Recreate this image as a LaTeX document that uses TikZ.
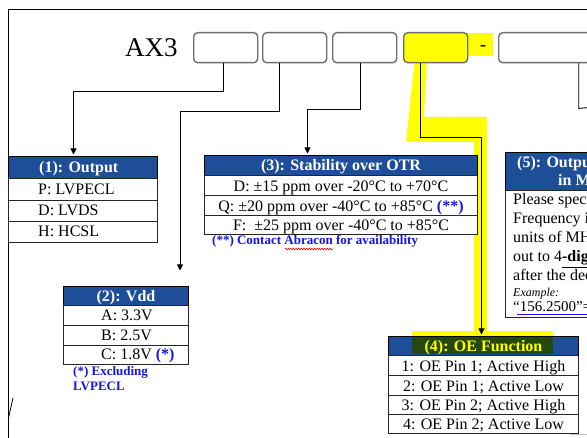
\documentclass[tikz,border=0pt]{standalone}
\usepackage{fontspec}
\setmainfont{Liberation Serif}
\usetikzlibrary{arrows.meta,decorations.pathmorphing}
\definecolor{hblue}{RGB}{31,78,153}
\definecolor{hlgreen}{RGB}{36,72,14}
\definecolor{boxgray}{RGB}{110,110,110}
\definecolor{hlyellow}{RGB}{255,255,0}
\definecolor{fnblue}{RGB}{20,20,235}
\newcommand\tabfont{\fontsize{16}{19}\selectfont}
\newcommand\tabbold{\fontsize{16}{19}\selectfont\bfseries}
\newcommand\notefont{\fontsize{13}{15}\selectfont\bfseries}
\begin{document}
\begin{tikzpicture}[x=1pt,y=-1pt,
  pbox/.style={draw=boxgray,line width=1.4pt,rounded corners=4pt,fill=white,minimum width=64pt,minimum height=30pt,inner sep=0pt,anchor=north west},
  conn/.style={line width=0.9pt,-{Triangle[width=6pt,length=6pt]},shorten >=1.5pt},
  wire/.style={line width=0.9pt},
  hdr/.style={draw=black,line width=1pt,fill=hblue,text=white,font=\tabbold,inner sep=0pt,anchor=north west,text height=10.6pt,text depth=0pt},
  cell/.style={draw=black!85,line width=1pt,fill=white,inner sep=0pt,anchor=north west,font=\tabfont,text height=10.6pt,text depth=0pt},
  txt/.style={inner sep=0pt,anchor=base west,font=\tabfont},
  htxt/.style={inner sep=0pt,anchor=base west,font=\tabbold,text=white},
  fn/.style={inner sep=0pt,anchor=base west,text=fnblue,font=\notefont}]
\useasboundingbox (0,0) rectangle (587,438);
\clip (0,0) rectangle (587,438);
\fill[white] (0,0) rectangle (587,438);

% yellow highlighter
\fill[hlyellow] (415,58) -- (427,58) -- (424,117) -- (487,117) -- (487,337) -- (474,337) -- (474,142) -- (406,142) -- cycle;
\fill[hlyellow] (465,33) rectangle (493,56);

% frame
\draw[line width=1pt] (8,440) -- (8,10) -- (592,10);

% part number
\node[inner sep=0pt,anchor=base west,font=\fontsize{27}{30}\selectfont] (ax) at (125,57) {AX3};
\node[pbox] (b1) at (193,32) {};
\node[pbox] (b2) at (262,32) {};
\node[pbox] (b3) at (332,32) {};
\node[pbox,fill=hlyellow] (b4) at (403,32) {};
\node[inner sep=0pt,font=\fontsize{18}{20}\selectfont\bfseries] (dash) at (483,48.5) {-};
\node[pbox,minimum width=130pt] (b5) at (498,32) {};

% connectors
\coordinate (v2end) at (180,272);
\coordinate (b5end) at (595,107);

% table 1
\node[hdr,minimum width=149pt,minimum height=22pt] (t1h) at (8,156) {};
\node[htxt] (t1ht) at (39,172.3) {(1): Output};
\node[cell,minimum width=149pt,minimum height=22pt] (t1a) at (8,178) {};
\node[cell,minimum width=149pt,minimum height=21pt] (t1b) at (8,200) {};
\node[cell,minimum width=149pt,minimum height=21pt] (t1c) at (8,221) {};
\node[txt] (t1at) at (38,194.3) {P: LVPECL};
\node[txt] (t1bt) at (38,215.8) {D: LVDS};
\node[txt] (t1ct) at (38,236.8) {H: HCSL};

% table 2
\node[hdr,minimum width=125pt,minimum height=19pt] (t2h) at (63,286) {(2): Vdd};
\node[cell,minimum width=125pt,minimum height=20pt] (t2a) at (63,305) {};
\node[cell,minimum width=125pt,minimum height=20pt] (t2b) at (63,325) {};
\node[cell,minimum width=125pt,minimum height=19pt] (t2c) at (63,345) {};
\node[txt] (t2at) at (101,320.3) {A: 3.3V};
\node[txt] (t2bt) at (101,340.3) {B: 2.5V};
\node[txt] (t2ct) at (101,359.8) {C: 1.8V \textcolor{fnblue}{\textbf{(*)}}};
\node[fn] (fn2a) at (73,376) {(*) Excluding};
\node[fn] (fn2b) at (73,391) {LVPECL};

% table 3
\node[hdr,minimum width=273pt,minimum height=20pt] (t3h) at (204,155) {(3): Stability over OTR};
\node[cell,minimum width=273pt,minimum height=20.5pt] (t3a) at (204,175) {D: ±15 ppm over -20°C to +70°C};
\node[cell,minimum width=273pt,minimum height=19.5pt] (t3b) at (204,195.5) {Q: ±20 ppm over -40°C to +85°C \textcolor{fnblue}{\textbf{(**)}}};
\node[cell,minimum width=273pt,minimum height=19pt] (t3c) at (204,215) {F:\ \ ±25 ppm over -40°C to +85°C};
\node[fn] (fn3) at (212,245) {(**) Contact Abracon for availability};
\draw[red,line width=0.6pt,decorate,decoration={snake,amplitude=0.8pt,segment length=2.6pt}] (285,249) -- (333,249);

% table 4
\fill[hlyellow] (412,331) rectangle (553,337);
\node[hdr,minimum width=190pt,minimum height=19pt] (t4h) at (388,336) {};
\fill[hlgreen] (412,336.6) rectangle (553,354.4);
\node[inner sep=0pt,font=\tabbold,text=hlyellow,text height=10.6pt,text depth=0pt] (t4ht) at (t4h.center) {(4): OE Function};
\node[cell,minimum width=190pt,minimum height=20.5pt] (t4a) at (388,355) {1: OE Pin 1; Active High};
\node[cell,minimum width=190pt,minimum height=19.5pt] (t4b) at (388,375.5) {2: OE Pin 1; Active Low};
\node[cell,minimum width=190pt,minimum height=19pt] (t4c) at (388,395) {3: OE Pin 2; Active High};
\node[cell,minimum width=190pt,minimum height=19pt] (t4d) at (388,414) {4: OE Pin 2; Active Low};

% table 5
\node[hdr,minimum width=120pt,minimum height=38pt] (t5h) at (505,152) {};
\node[htxt] (t5h1) at (517,168) {(5): Output Frequency};
\node[htxt] (t5h2) at (558,186) {in MHz};
\node[cell,minimum width=120pt,minimum height=127pt] (t5b) at (505,190) {};
\node[txt] (t5l1) at (513,205) {Please specify};
\node[txt] (t5l2) at (513,224) {Frequency in};
\node[txt] (t5l3) at (513,243) {units of MHz};
\node[txt] (t5l4) at (513,262) {out to 4\underline{\textbf{-digits}}};
\node[txt] (t5l5) at (513,281) {after the decimal};
\node[txt,font=\fontsize{12}{14}\selectfont\itshape] (t5l6) at (513,297) {Example:};
\node[txt,font=\fontsize{15}{17}\selectfont] (t5l7) at (513,311.5) {“156.2500”=156.25MHz};
\draw[fnblue,line width=0.8pt] (t5l7.base west) ++(4,3) -- ++(90,0);

% connectors
\draw[conn] ([xshift=-2pt]b1.south) -- ++(0,28) -| ([xshift=-9.5pt]t1h.north);
\draw[conn] ([xshift=-15pt]b2.south) -- ++(0,48) -| (v2end);
\draw[conn] ([xshift=-4pt]b3.south) -- ++(0,46) -| ([xshift=-33.5pt]t3h.north);
\draw[conn] ([xshift=-15pt]b4.south) -- ++(0,74) -| ([xshift=-2pt]t4h.north);
\draw[wire] ([xshift=15pt]b5.south) -- ++(0,45) -- (b5end);

% stray marks
\draw[line width=0.8pt] (13,398) -- (8.5,418);
\draw[black!25,line width=0.8pt] (570,434.5) -- (592,434.5);
\end{tikzpicture}
\end{document}
